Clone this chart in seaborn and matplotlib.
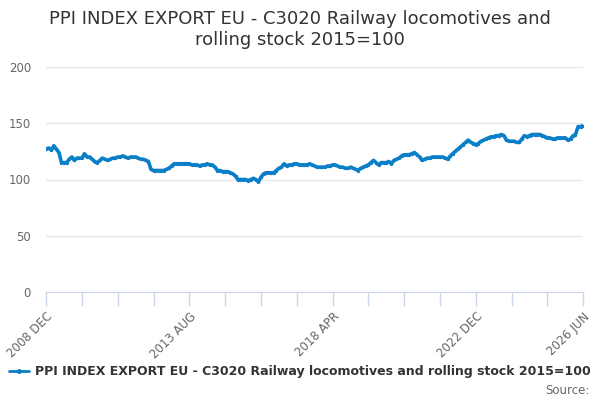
import seaborn as sns
import pandas as pd
import numpy as np
import matplotlib.pyplot as plt
from matplotlib.lines import Line2D

# monthly index values, 2008 DEC .. 2026 JUN
index_values = [
    127, 128, 126, 130, 127, 124, 115, 115, 115, 118,
    120, 117, 119, 119, 119, 123, 120, 120, 118, 116,
    115, 117, 119, 118, 117, 118, 119, 119, 120, 120,
    121, 120, 119, 120, 120, 120, 119, 118, 118, 117,
    116, 109, 108, 108, 108, 108, 108, 109, 110, 112,
    114, 114, 114, 114, 114, 114, 114, 113, 113, 113,
    112, 113, 113, 114, 113, 113, 111, 108, 108, 107,
    107, 107, 106, 105, 103, 100, 100, 100, 100, 99,
    100, 101, 100, 98, 102, 105, 106, 106, 106, 106,
    108, 110, 111, 114, 112, 113, 113, 114, 114, 113,
    113, 113, 113, 114, 113, 112, 111, 111, 111, 111,
    112, 112, 113, 113, 112, 111, 111, 110, 110, 111,
    110, 109, 108, 110, 111, 112, 113, 115, 117, 115,
    113, 115, 115, 115, 116, 114, 117, 118, 119, 121,
    122, 122, 122, 123, 124, 122, 120, 117, 118, 119,
    119, 120, 120, 120, 120, 120, 119, 118, 121, 123,
    125, 127, 129, 131, 133, 135, 133, 132, 131, 132,
    134, 135, 136, 137, 138, 138, 139, 139, 140, 139,
    135, 134, 134, 134, 133, 133, 136, 139, 138, 139,
    140, 140, 140, 140, 139, 138, 137, 137, 136, 136,
    137, 137, 137, 137, 135, 136, 139, 140, 147, 147,
    148,
]
start_month = '2008-12-01'
end_month = '2026-06-01'
tick_labels = ['2008 DEC', '2013 AUG', '2018 APR', '2022 DEC', '2026 JUN']
y_ticks = [0, 50, 100, 150, 200]
series_name = 'PPI INDEX EXPORT EU - C3020 Railway locomotives and rolling stock 2015=100'
title = 'PPI INDEX EXPORT EU - C3020 Railway locomotives and\nrolling stock 2015=100'

dates = pd.date_range(start_month, periods=len(index_values), freq='MS')
df = pd.DataFrame({'date': dates, 'value': index_values})

sns.set_style('white')
plt.rcParams['font.family'] = ['DejaVu Sans']

blue = '#0a7fc7'
fig = plt.figure(figsize=(6, 4), dpi=100)
ax = fig.add_axes([0.077, 0.27, 0.895, 0.5625])

sns.lineplot(data=df, x='date', y='value', ax=ax, color=blue, linewidth=2.6,
             marker='o', markersize=2.4, markeredgewidth=0)

# tick marks every 14 months, labels on a few of them
tick_dates = list(pd.date_range(start_month, periods=16, freq='14MS'))
tick_dates[-1] = pd.Timestamp(end_month)
ax.set_xticks(tick_dates)
labels = [''] * len(tick_dates)
for i, lab in zip([0, 4, 8, 12, 15], tick_labels):
    labels[i] = lab
ax.set_xticklabels(labels, rotation=45, ha='right', rotation_mode='anchor',
                   fontsize=8.5, color='#666666')
ax.set_xlim(pd.Timestamp(start_month), pd.Timestamp(end_month))

ax.set_ylim(0, 200)
ax.set_yticks(y_ticks)
ax.set_yticklabels([str(v) for v in y_ticks], fontsize=8.5, color='#666666')
ax.yaxis.grid(True, color='#e6e6e6', linewidth=1)
ax.set_xlabel('')
ax.set_ylabel('')

for side in ['top', 'right', 'left']:
    ax.spines[side].set_visible(False)
ax.spines['bottom'].set_color('#ccd6eb')
ax.tick_params(axis='x', bottom=True, length=10, width=1, color='#ccd6eb',
               pad=3, direction='out')
ax.tick_params(axis='y', left=False, length=0, pad=11)

fig.text(0.5, 0.975, title, ha='center', va='top', fontsize=13,
         color='#333333', linespacing=1.2)

handle = Line2D([0], [0], color=blue, linewidth=2, marker='o', markersize=2.5)
fig.legend([handle], [series_name], loc='center', bbox_to_anchor=(0.5, 0.07),
           frameon=False, handlelength=1.6, handletextpad=0.5,
           prop={'size': 9, 'weight': 'bold'}, labelcolor='#333333')
fig.text(0.982, 0.025, 'Source:', ha='right', va='center', fontsize=8.5, color='#666666')

plt.savefig('out.png', dpi=100)
